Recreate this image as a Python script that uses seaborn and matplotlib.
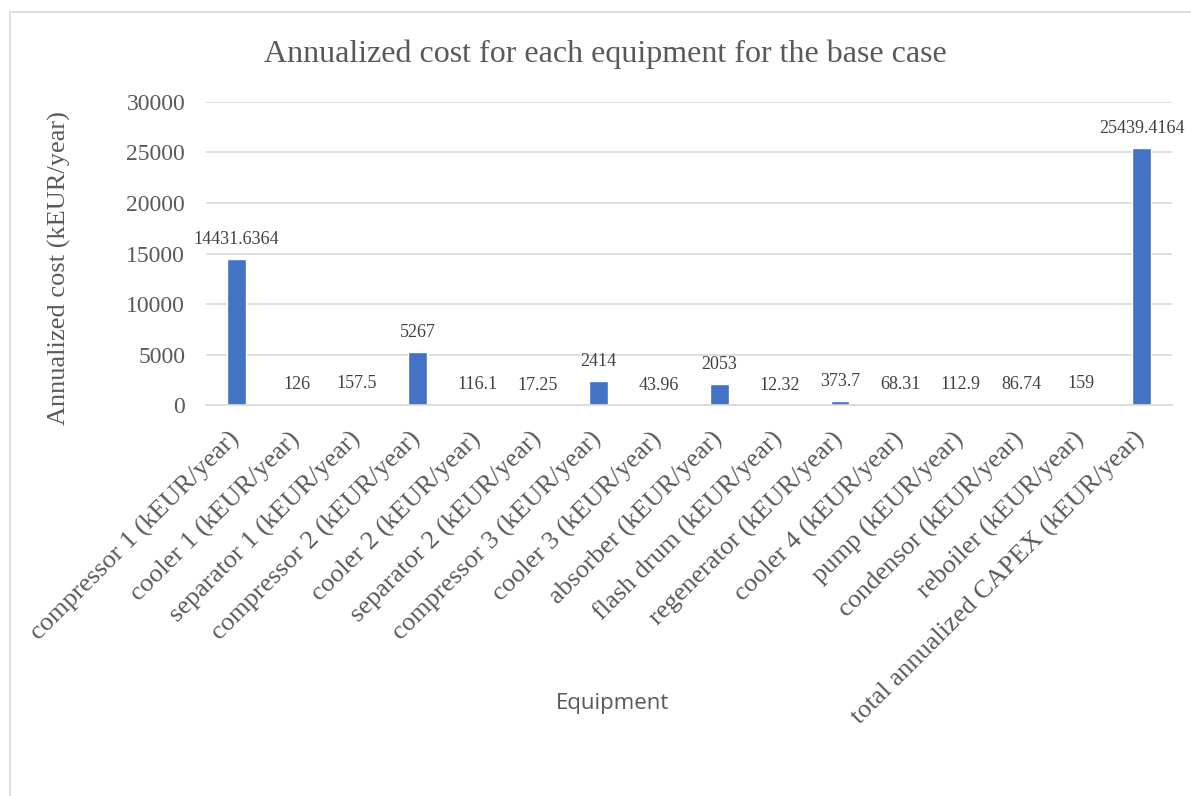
import matplotlib
matplotlib.use("Agg")
import matplotlib.pyplot as plt
import matplotlib.patches as mpatches
import seaborn as sns
import pandas as pd

# Equipment categories and their annualized costs (kEUR/year)
equipment = [
    "compressor 1 (kEUR/year)",
    "cooler 1 (kEUR/year)",
    "separator 1 (kEUR/year)",
    "compressor 2 (kEUR/year)",
    "cooler 2 (kEUR/year)",
    "separator 2 (kEUR/year)",
    "compressor 3 (kEUR/year)",
    "cooler 3 (kEUR/year)",
    "absorber (kEUR/year)",
    "flash drum (kEUR/year)",
    "regenerator (kEUR/year)",
    "cooler 4 (kEUR/year)",
    "pump (kEUR/year)",
    "condensor (kEUR/year)",
    "reboiler (kEUR/year)",
    "total annualized CAPEX (kEUR/year)",
]
costs = [14431.6364, 126, 157.5, 5267, 116.1, 17.25, 2414, 43.96, 2053,
         12.32, 373.7, 68.31, 112.9, 86.74, 159, 25439.4164]
y_ticks = [0, 5000, 10000, 15000, 20000, 25000, 30000]

df = pd.DataFrame({"Equipment": equipment, "Cost": costs})

sns.set_theme(style="white")
plt.rcParams["font.family"] = ["Liberation Serif", "DejaVu Serif"]

TEXT = "#595959"
GRID = "#D9D9D9"
BAR = "#4472C4"

fig = plt.figure(figsize=(11.91, 7.96), dpi=100)
ax = fig.add_axes([0.173, 0.491, 0.811, 0.381])

sns.barplot(data=df, x="Equipment", y="Cost", color=BAR, width=0.31,
            saturation=1, ax=ax)

ax.set_xlim(-0.5, len(equipment) - 0.5)
ax.set_ylim(0, 30000)
ax.set_yticks(y_ticks)
ax.set_yticklabels([str(t) for t in y_ticks], fontsize=17, color=TEXT)
ax.tick_params(axis="y", length=0, pad=15)
ax.tick_params(axis="x", length=0, pad=22)

ax.set_xticks(range(len(equipment)))
ax.set_xticklabels(equipment, rotation=45, ha="right", va="center",
                   rotation_mode="anchor", fontsize=19, color=TEXT)

ax.yaxis.grid(True, color=GRID, linewidth=1.2)
ax.set_axisbelow(True)
for side in ("left", "right", "top"):
    ax.spines[side].set_visible(False)
ax.spines["bottom"].set_color(GRID)
ax.spines["bottom"].set_linewidth(1.2)


def fmt(v):
    return ("%.4f" % v).rstrip("0").rstrip(".")


for i, v in enumerate(costs):
    ax.annotate(fmt(v), xy=(i, v), xytext=(0, 8), textcoords="offset points",
                ha="center", va="bottom", fontsize=13, color="#404040")

ax.set_ylabel("")
ax.set_xlabel("")
fig.text(0.050, 0.663, "Annualized cost (kEUR/year)", rotation=90,
         ha="center", va="center", fontsize=19, color=TEXT)

fig.text(0.5085, 0.9315, "Annualized cost for each equipment for the base case",
         ha="center", va="center", fontsize=23, color=TEXT)
fig.text(0.514, 0.1165, "Equipment", ha="center", va="center", fontsize=16,
         color=TEXT, family=["Open Sans", "DejaVu Sans"])

# Chart area frame
frame = mpatches.Rectangle((10 / 1191, -0.5), 2.0, 0.5 + 1 - 12 / 796,
                           transform=fig.transFigure, fill=False,
                           edgecolor=GRID, linewidth=1.2, clip_on=False)
fig.patches.append(frame)

fig.savefig("out.png", dpi=100, facecolor="white")
